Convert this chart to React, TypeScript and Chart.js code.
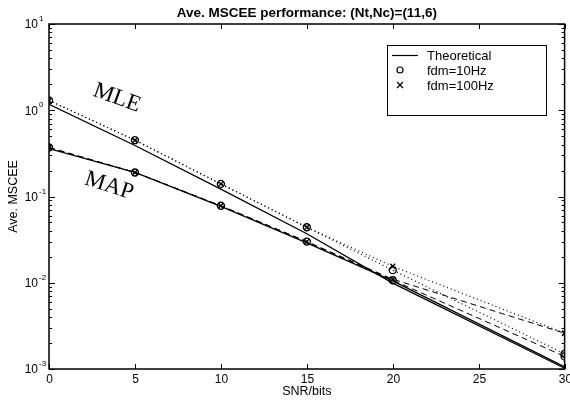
import React, { useEffect, useRef } from "react";
import { Chart, registerables } from "chart.js";

Chart.register(...registerables);

// ---- data ----
const snr = [0, 5, 10, 15, 20, 30];
const mleTheory = [1.17, 0.39, 0.122, 0.037, 0.0099, 0.00102];
const mapTheory = [0.36, 0.19, 0.077, 0.029, 0.0105, 0.00106];
const mle10 = [1.3, 0.45, 0.14, 0.044, 0.014, 0.0015];
const mle100 = [1.3, 0.45, 0.14, 0.044, 0.0155, 0.0026];
const map10 = [0.37, 0.19, 0.078, 0.03, 0.0107, 0.0014];
const map100 = [0.37, 0.19, 0.078, 0.03, 0.011, 0.0026];

const xTicks = [0, 5, 10, 15, 20, 25, 30];
const yDecades = [-3, -2, -1, 0, 1];
const legendLabels = ["Theoretical", "fdm=10Hz", "fdm=100Hz"];
const titleText = "Ave. MSCEE performance: (Nt,Nc)=(11,6)";
const xLabel = "SNR/bits";
const yLabel = "Ave. MSCEE";
const annotations = [
  { text: "MLE", x: 117, y: 98, angle: 20 },
  { text: "MAP", x: 109, y: 186, angle: 18 },
];

const SANS = "'Liberation Sans', Arial, Helvetica, sans-serif";
const SERIF = "'Liberation Serif', 'Times New Roman', serif";

function pts(vals: number[]) {
  return snr.map((x, i) => ({ x, y: vals[i] }));
}

const decor = {
  id: "decor",
  afterDraw(chart: any) {
    const { ctx, chartArea: a, scales } = chart;
    const xs = scales.x;
    const ys = scales.y;
    ctx.save();
    ctx.strokeStyle = "#000";
    ctx.fillStyle = "#000";
    const line = (x1: number, y1: number, x2: number, y2: number) => {
      ctx.beginPath();
      ctx.moveTo(x1, y1);
      ctx.lineTo(x2, y2);
      ctx.stroke();
    };
    // box
    ctx.lineWidth = 1.5;
    ctx.strokeRect(a.left, a.top, a.right - a.left, a.bottom - a.top);
    ctx.lineWidth = 1;
    // x ticks
    ctx.font = `12px ${SANS}`;
    ctx.textAlign = "center";
    ctx.textBaseline = "middle";
    for (const t of xTicks) {
      const px = Math.round(xs.getPixelForValue(t)) + 0.5;
      line(px, a.bottom, px, a.bottom - 5);
      line(px, a.top, px, a.top + 5);
      ctx.fillText(String(t), px, a.bottom + 11);
    }
    // y ticks
    for (const d of yDecades) {
      for (let m = 1; m <= 9; m++) {
        const v = m * Math.pow(10, d);
        if (v > 10.0001) break;
        const py = Math.round(ys.getPixelForValue(v)) + 0.5;
        const len = m === 1 ? 6 : 3;
        line(a.left, py, a.left + len, py);
        line(a.right, py, a.right - len, py);
      }
      const py = ys.getPixelForValue(Math.pow(10, d));
      ctx.font = `12px ${SANS}`;
      ctx.textAlign = "right";
      ctx.textBaseline = "middle";
      ctx.fillText("10", a.left - 11, py + 1);
      ctx.font = `8px ${SANS}`;
      ctx.textAlign = "left";
      ctx.fillText(String(d), a.left - 10, py - 5);
    }
    // title & axis labels
    ctx.font = `bold 13.5px ${SANS}`;
    ctx.textAlign = "center";
    ctx.textBaseline = "middle";
    const cx = (a.left + a.right) / 2;
    ctx.fillText(titleText, cx, 13);
    ctx.font = `12.5px ${SANS}`;
    ctx.fillText(xLabel, cx, a.bottom + 23);
    ctx.save();
    ctx.translate(14, (a.top + a.bottom) / 2);
    ctx.rotate(-Math.PI / 2);
    ctx.fillText(yLabel, 0, 0);
    ctx.restore();
    // annotations
    ctx.font = `23px ${SERIF}`;
    for (const an of annotations) {
      ctx.save();
      ctx.translate(an.x, an.y);
      ctx.rotate((an.angle * Math.PI) / 180);
      ctx.fillText(an.text, 0, 0);
      ctx.restore();
    }
    // legend
    const lx = 387, ly = 45, lw = 159, lh = 70;
    ctx.fillStyle = "#fff";
    ctx.fillRect(lx, ly, lw, lh);
    ctx.fillStyle = "#000";
    ctx.lineWidth = 1;
    ctx.strokeRect(lx + 0.5, ly + 0.5, lw, lh);
    const rows = [55, 70, 85];
    ctx.font = `13px ${SANS}`;
    ctx.textAlign = "left";
    ctx.textBaseline = "middle";
    ctx.lineWidth = 1.2;
    line(392, rows[0] + 0.5, 418, rows[0] + 0.5);
    ctx.beginPath();
    ctx.arc(400, rows[1], 3, 0, Math.PI * 2);
    ctx.stroke();
    line(397, rows[2] - 3, 403, rows[2] + 3);
    line(397, rows[2] + 3, 403, rows[2] - 3);
    legendLabels.forEach((t, i) => ctx.fillText(t, 427, rows[i] + 1));
    ctx.restore();
  },
};

export default function App() {
  const ref = useRef<HTMLCanvasElement>(null);
  useEffect(() => {
    document.body.style.margin = "0";
    const canvas = ref.current!;
    const sim = (vals: number[], style: string, dash: number[], w: number) => ({
      data: pts(vals),
      borderColor: "#000",
      backgroundColor: "transparent",
      borderWidth: w,
      borderDash: dash,
      pointStyle: style,
      pointRadius: 3.5,
      pointBorderColor: "#000",
      pointBackgroundColor: "transparent",
      pointBorderWidth: 1.4,
      tension: 0,
      fill: false,
    });
    const theory = (vals: number[]) => ({
      data: pts(vals),
      borderColor: "#000",
      borderWidth: 1.3,
      pointRadius: 0,
      tension: 0,
      fill: false,
    });
    const chart = new Chart(canvas, {
      type: "line",
      data: {
        datasets: [
          theory(mleTheory),
          theory(mapTheory),
          sim(mle10, "circle", [1, 3], 1.2),
          sim(mle100, "crossRot", [1, 3], 1.2),
          sim(map10, "circle", [6, 4], 1),
          sim(map100, "crossRot", [6, 4], 1),
        ] as any,
      },
      options: {
        animation: false,
        responsive: false,
        layout: { padding: { left: 49, right: 4, top: 24, bottom: 32 } },
        plugins: { legend: { display: false }, tooltip: { enabled: false } },
        scales: {
          x: { type: "linear", min: 0, max: 30, display: false },
          y: { type: "logarithmic", min: 0.001, max: 10, display: false },
        },
      },
      plugins: [decor],
    });
    return () => chart.destroy();
  }, []);
  return <canvas ref={ref} width={570} height={401} style={{ display: "block" }} />;
}
